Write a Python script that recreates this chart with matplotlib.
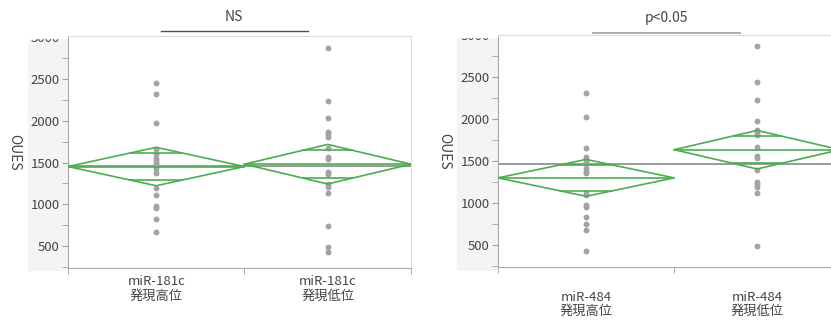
import numpy as np
import matplotlib
matplotlib.use("Agg")
import matplotlib.pyplot as plt
from matplotlib.patches import Rectangle, Polygon
from matplotlib.lines import Line2D

plt.rcParams['font.family'] = ['Noto Sans CJK JP', 'DejaVu Sans']

# data (OUES per group)
mir181c_high = [2448, 2317, 1973, 1658, 1597, 1557, 1529, 1497, 1500, 1457, 1417,
                1377, 1198, 1110, 982, 951, 823, 671]
mir181c_low = [2875, 2233, 2029, 1869, 1841, 1809, 1670, 1570, 1539, 1390, 1359,
               1239, 1210, 1131, 743, 484, 425]
mir484_high = [2313, 2027, 1657, 1550, 1518, 1490, 1411, 1379, 1352, 1120, 1093,
               973, 946, 827, 747, 675, 425]
mir484_low = [2870, 2444, 2229, 1972, 1868, 1836, 1808, 1669, 1558, 1530, 1391,
              1251, 1220, 1191, 1112, 484]

# means diamonds: group mean and 95% CI half width (as drawn)
means_181c = [1452, 1480]
ci_181c = [230, 237]
grand_181c = 1463
means_484 = [1297, 1633]
ci_484 = [220, 230]
grand_484 = 1457

labels_181c = ["miR-181c\n発現高位", "miR-181c\n発現低位"]
labels_484 = ["miR-484\n発現高位", "miR-484\n発現低位"]
titles = ["NS", "p<0.05"]

W, H = 831, 324
GREEN = "#4aae4f"
DOT = "#a3a3a3"
TXT = "#454545"


def px(x0, y0, w, h):
    return [x0 / W, 1 - (y0 + h) / H, w / W, h / H]


fig = plt.figure(figsize=(W / 100, H / 100), dpi=100)


def panel(rect, groups, means, ci, grand, labels, ylim, pad):
    ax = fig.add_axes(rect)
    ns = [len(g) for g in groups]
    edges = np.concatenate([[0], np.cumsum(ns)])
    centers = (edges[:-1] + edges[1:]) / 2
    ax.set_xlim(0, edges[-1])
    ax.set_ylim(*ylim)

    ax.axhline(grand, color="#9a9a9a", lw=1.4, zorder=2)
    for i, g in enumerate(groups):
        x0, x1, xc = edges[i], edges[i + 1], centers[i]
        m, h = means[i], ci[i]
        ax.scatter(np.full(len(g), xc), g, s=18, color=DOT, zorder=3, linewidths=0)
        ax.add_patch(Polygon([(x0, m), (xc, m + h), (x1, m), (xc, m - h)],
                             closed=True, fill=False, ec=GREEN, lw=1.2, zorder=4))
        ax.plot([x0, x1], [m, m], color=GREEN, lw=1.2, zorder=4)
        d = h / np.sqrt(2)
        hw = (1 - 1 / np.sqrt(2)) * (xc - x0)
        for yy in (m + d, m - d):
            ax.plot([xc - hw, xc + hw], [yy, yy], color=GREEN, lw=1.2, zorder=4)

    ax.set_yticks([500, 1000, 1500, 2000, 2500, 3000])
    ax.set_yticks(np.arange(250, 3001, 250), minor=True)
    ax.set_xticks(centers)
    ax.set_xticklabels(labels, fontsize=9.5, color=TXT, linespacing=1.15)
    ax.set_xticks(edges, minor=True)
    ax.tick_params(axis="x", which="major", length=0, pad=pad)
    ax.tick_params(axis="x", which="minor", length=4, color="#a0a0a0")
    ax.tick_params(axis="y", which="both", length=4, color="#a0a0a0",
                   labelsize=9.5, labelcolor=TXT, pad=2)
    ax.set_ylabel("OUES", rotation=-90, fontsize=10, color=TXT, labelpad=17)
    for s in ("left", "bottom"):
        ax.spines[s].set_color("#a8a8a8")
    for s in ("top", "right"):
        ax.spines[s].set_color("#dcdcdc")
    return ax


# light gray band behind the y tick labels
fig.add_artist(Rectangle((28 / W, 1 - 270 / H), 40 / W, 232 / H,
                         transform=fig.transFigure, color="#f4f4f4", zorder=-1))
fig.add_artist(Rectangle((457 / W, 1 - 270 / H), 41 / W, 233 / H,
                         transform=fig.transFigure, color="#f4f4f4", zorder=-1))

panel(px(68, 36, 343, 232), [mir181c_high, mir181c_low], means_181c, ci_181c,
      grand_181c, labels_181c, (237, 3015), 5)
panel(px(498, 35, 342, 232), [mir484_high, mir484_low], means_484, ci_484,
      grand_484, labels_484, (234, 3001), 17)

# clip the top tick label like the reference (cover above the plot)
for x0, x1, ytop in ((0, 67, 38), (415, 497, 37)):
    fig.add_artist(Rectangle((x0 / W, 1 - ytop / H), (x1 - x0) / W, ytop / H,
                             transform=fig.transFigure, color="white", zorder=5))

fig.text(234 / W, 1 - 17 / H, titles[0], ha="center", va="center",
         fontsize=10, color=TXT, zorder=6)
fig.add_artist(Line2D([161 / W, 308 / W], [1 - 31 / H] * 2, color="#505050",
                      lw=1.0, transform=fig.transFigure, zorder=6))
fig.text(666 / W, 1 - 18 / H, titles[1], ha="center", va="center",
         fontsize=10, color=TXT, zorder=6)
fig.add_artist(Line2D([593 / W, 740 / W], [1 - 33 / H] * 2, color="#a0a0a0",
                      lw=1.2, transform=fig.transFigure, zorder=6))

fig.savefig("out.png", dpi=100)
